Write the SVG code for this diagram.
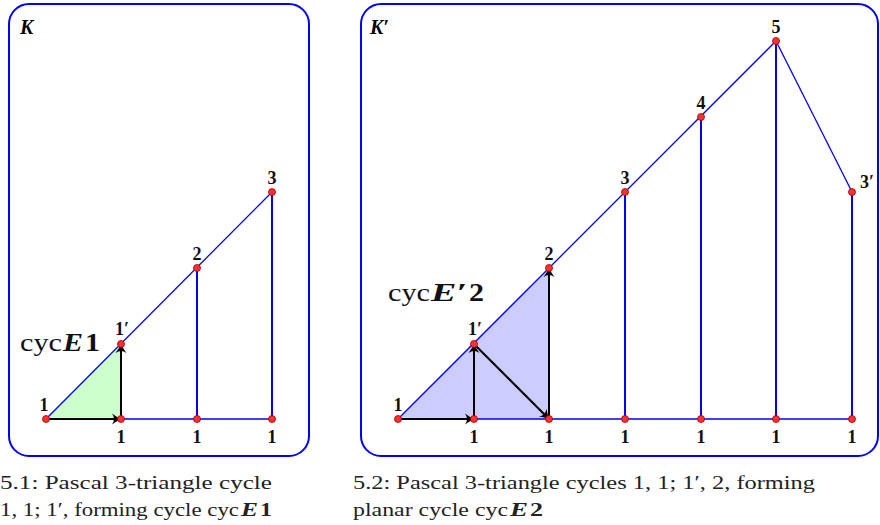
<svg xmlns="http://www.w3.org/2000/svg" width="880" height="525" viewBox="0 0 880 525">
<style>
.box{fill:none;stroke:#0000ff;stroke-width:2}
.e{stroke:#0000ff;stroke-width:1.3;fill:none}
.v{stroke:#0000ff;stroke-width:2;fill:none}
.a{stroke:#000;stroke-width:2;fill:none;marker-end:url(#ah)}
.dot{fill:#ff3030;stroke:#a00000;stroke-width:0.8}
.lb{font-family:'Liberation Serif','DejaVu Serif',serif;font-weight:bold;font-size:18px;text-anchor:middle;fill:#111}
.cap{font-family:'Liberation Serif','DejaVu Serif',serif;font-size:18px;fill:#222}
.big{font-family:'Liberation Serif','DejaVu Serif',serif;font-size:25px;fill:#111}
.bi{font-weight:bold;font-style:italic}
.b{font-weight:bold}
</style>
<defs>
<marker id="ah" viewBox="-10 -6 12 12" markerWidth="12" markerHeight="12" refX="0" refY="0" orient="auto" markerUnits="userSpaceOnUse">
<path d="M-9,-5.5 Q-3,-1 1,0 Q-3,1 -9,5.5 Q-5,0 -9,-5.5 Z" fill="#000"/>
</marker>
</defs>
<rect class="box" x="9" y="4" width="300" height="452" rx="20"/>
<rect class="box" x="361" y="4" width="517" height="452" rx="20"/>
<text x="20" y="34" font-family="'Liberation Serif',serif" font-size="20" font-weight="bold" font-style="italic">K</text>
<text x="370" y="34" font-family="'Liberation Serif',serif" font-size="20" font-weight="bold" font-style="italic">K′</text>
<polygon points="46,419 121,419 121,344" fill="#ccffcc"/>
<polygon points="398,419 549,419 549,268" fill="#ccccff"/>
<g id="connectors">
<line class="e" x1="46" y1="419" x2="272" y2="192"/>
<line class="e" x1="46" y1="419" x2="272" y2="419"/>
<line class="v" x1="197" y1="268" x2="197" y2="419"/>
<line class="v" x1="272" y1="192" x2="272" y2="419"/>
<line class="e" x1="398" y1="419" x2="776" y2="41"/>
<line class="e" x1="398" y1="419" x2="852" y2="419"/>
<line class="e" x1="776" y1="41" x2="852" y2="192"/>
<line class="v" x1="625" y1="192" x2="625" y2="419"/>
<line class="v" x1="701" y1="117" x2="701" y2="419"/>
<line class="v" x1="776" y1="41" x2="776" y2="419"/>
<line class="v" x1="852" y1="192" x2="852" y2="419"/>
<line class="a" x1="46" y1="419" x2="121" y2="419"/>
<line class="a" x1="121" y1="419" x2="121" y2="344"/>
<line class="a" x1="398" y1="419" x2="474" y2="419"/>
<line class="a" x1="474" y1="419" x2="474" y2="344"/>
<line class="a" x1="474" y1="344" x2="549" y2="419"/>
<line class="a" x1="549" y1="419" x2="549" y2="268"/>
</g>
<g id="nL1"><circle class="dot" cx="46" cy="419" r="3.5"/><text class="lb" x="44" y="411">1</text></g>
<g id="nL2"><circle class="dot" cx="121" cy="419" r="3.5"/><text class="lb" x="121" y="443">1</text></g>
<g id="nL3"><circle class="dot" cx="197" cy="419" r="3.5"/><text class="lb" x="197" y="443">1</text></g>
<g id="nL4"><circle class="dot" cx="272" cy="419" r="3.5"/><text class="lb" x="272" y="443">1</text></g>
<g id="nL1p"><circle class="dot" cx="121" cy="344" r="3.5"/><text class="lb" x="122" y="335">1′</text></g>
<g id="nL2u"><circle class="dot" cx="197" cy="268" r="3.5"/><text class="lb" x="197" y="260">2</text></g>
<g id="nL3u"><circle class="dot" cx="272" cy="192" r="3.5"/><text class="lb" x="272" y="184">3</text></g>
<g id="nR1"><circle class="dot" cx="398" cy="419" r="3.5"/><text class="lb" x="398" y="411">1</text></g>
<g id="nR2"><circle class="dot" cx="474" cy="419" r="3.5"/><text class="lb" x="474" y="443">1</text></g>
<g id="nR3"><circle class="dot" cx="549" cy="419" r="3.5"/><text class="lb" x="549" y="443">1</text></g>
<g id="nR4"><circle class="dot" cx="625" cy="419" r="3.5"/><text class="lb" x="625" y="443">1</text></g>
<g id="nR5"><circle class="dot" cx="701" cy="419" r="3.5"/><text class="lb" x="701" y="443">1</text></g>
<g id="nR6"><circle class="dot" cx="776" cy="419" r="3.5"/><text class="lb" x="776" y="443">1</text></g>
<g id="nR7"><circle class="dot" cx="852" cy="419" r="3.5"/><text class="lb" x="852" y="443">1</text></g>
<g id="nR1p"><circle class="dot" cx="474" cy="344" r="3.5"/><text class="lb" x="475" y="335">1′</text></g>
<g id="nR2u"><circle class="dot" cx="549" cy="268" r="3.5"/><text class="lb" x="549" y="260">2</text></g>
<g id="nR3u"><circle class="dot" cx="625" cy="192" r="3.5"/><text class="lb" x="625" y="184">3</text></g>
<g id="nR4u"><circle class="dot" cx="701" cy="117" r="3.5"/><text class="lb" x="701" y="109">4</text></g>
<g id="nR5u"><circle class="dot" cx="776" cy="41" r="3.5"/><text class="lb" x="776" y="33">5</text></g>
<g id="nR3p"><circle class="dot" cx="852" cy="192" r="3.5"/><text class="lb" x="867" y="188">3′</text></g>
<text class="big" x="20" y="351" textLength="42" lengthAdjust="spacingAndGlyphs">cyc</text>
<text class="big bi" x="63" y="351" textLength="20" lengthAdjust="spacingAndGlyphs">E</text>
<text class="big b" x="85" y="351" textLength="15" lengthAdjust="spacingAndGlyphs">1</text>
<text class="big" x="388" y="301" textLength="42" lengthAdjust="spacingAndGlyphs">cyc</text>
<text class="big bi" x="431" y="301" textLength="36" lengthAdjust="spacingAndGlyphs">E′</text>
<text class="big b" x="469" y="301" textLength="15" lengthAdjust="spacingAndGlyphs">2</text>
<text class="cap" x="0" y="489" textLength="272" lengthAdjust="spacingAndGlyphs">5.1: Pascal 3-triangle cycle</text>
<text class="cap" x="0" y="516" textLength="239" lengthAdjust="spacingAndGlyphs">1, 1; 1′, forming cycle cyc</text>
<text class="cap bi" x="241" y="516" textLength="17" lengthAdjust="spacingAndGlyphs">E</text>
<text class="cap b" x="260" y="516" textLength="12" lengthAdjust="spacingAndGlyphs">1</text>
<text class="cap" x="353" y="489" textLength="462" lengthAdjust="spacingAndGlyphs">5.2: Pascal 3-triangle cycles 1, 1; 1′, 2, forming</text>
<text class="cap" x="353" y="516" textLength="155" lengthAdjust="spacingAndGlyphs">planar cycle cyc</text>
<text class="cap bi" x="510" y="516" textLength="18" lengthAdjust="spacingAndGlyphs">E</text>
<text class="cap b" x="530" y="516" textLength="13" lengthAdjust="spacingAndGlyphs">2</text>
</svg>
